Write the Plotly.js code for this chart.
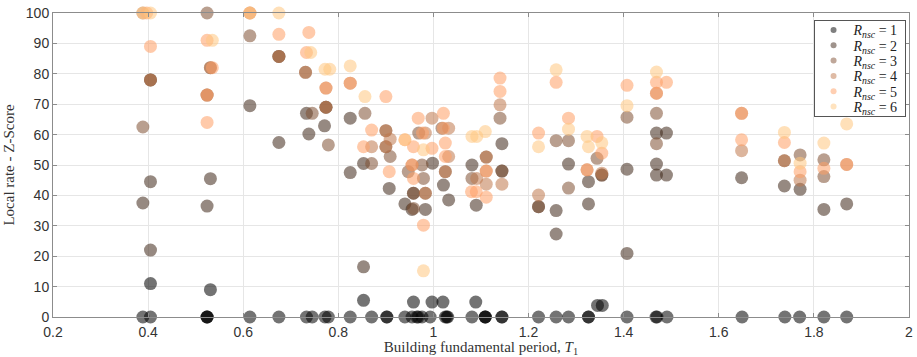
<!DOCTYPE html>
<html><head><meta charset="utf-8">
<script src="https://cdn.plot.ly/plotly-3.0.1.min.js"></script>
<style>html,body{margin:0;padding:0;background:#fff;}#chart{width:917px;height:357px;}</style>
</head><body><div id="chart"></div>
<script>
// R_nsc = 1
const r1x = [0.389,0.405,0.524,0.524,0.524,0.614,0.675,0.733,0.745,0.772,0.779,0.825,0.870,0.902,0.902,0.940,0.955,0.965,0.976,0.968,0.993,1.025,1.028,1.030,1.081,1.109,1.109,1.109,1.144,1.144,1.221,1.258,1.284,1.326,1.326,1.407,1.468,1.470,1.491,1.649,1.739,1.770,1.821,1.869,
             0.405,0.531,0.853,0.958,0.997,1.020,1.089,1.345,1.355];
const r1y = [0,0,0,0,0,0,0,0,0,0,0,0,0,0,0,0,0,0,0,0,0,0,0,0,0,0,0,0,0,0,0,0,0,0,0,0,0,0,0,0,0,0,0,0,
             11,9,5.5,4.9,4.9,4.9,4.9,3.8,3.8];
// R_nsc = 2
const r2x = [0.389,0.405,0.405,0.405,0.524,0.531,0.614,0.675,0.675,0.733,0.738,0.771,0.774,0.825,0.825,0.853,0.853,0.907,0.940,0.955,0.958,0.983,0.998,1.021,1.032,1.081,1.090,1.144,1.144,1.221,1.258,1.258,1.284,1.326,1.326,1.354,1.407,1.407,1.469,1.490,1.469,1.469,1.490,1.648,1.738,1.771,1.821,1.869];
const r2y = [37.5,44.5,22,78,36.5,45.5,69.5,57.4,85.7,67,60.2,62.9,69,65.4,47.5,16.5,50.5,42.3,37.2,35.4,40.7,35.4,50.6,43.4,38.5,50,36.8,57,48,36.3,35,27.3,50.3,44.5,37.2,46.7,48.6,20.9,60.5,60.5,50.3,46.7,46.7,45.8,43.1,42,35.4,37.2];
// R_nsc = 3
const r3x = [0.389,0.405,0.524,0.524,0.531,0.614,0.675,0.731,0.745,0.774,0.779,0.856,0.870,0.900,0.900,0.909,0.947,0.958,0.958,0.969,0.976,0.979,0.983,1.018,1.025,1.081,1.111,1.140,1.144,1.221,1.258,1.284,1.284,1.344,1.354,1.407,1.469,1.469,1.738,1.771,1.821,1.821];
const r3y = [62.5,78,100,73,82,92.5,85.7,80.5,67,69,56.6,67,50.5,61.3,56,52.8,47.8,40.7,35.7,60.5,50,45.6,40.7,62.1,47.8,45.6,52.6,65.4,48,36.3,58,58,42.4,52.2,46.7,65.7,67,57,51.4,53.3,51.7,46.2];
// R_nsc = 4
const r4x = [0.389,0.405,0.531,0.524,0.614,0.675,0.731,0.774,0.774,0.825,0.870,0.900,0.909,0.900,0.955,0.983,0.997,0.983,1.032,1.032,1.025,1.091,1.111,1.111,1.111,1.140,1.144,1.221,1.323,1.354,1.469,1.648,1.648,1.738,1.771,1.869];
const r4y = [100,78,82,73,100,85.7,80.5,75.3,69,76.9,56,61.3,58.5,56,50,40.7,65.4,60.5,62.1,52.8,47.8,45.6,52.6,48,43.7,69.8,43.7,40.1,48.4,47.3,73.6,67,54.7,51.4,45,50.2];
// R_nsc = 5
const r5x = [0.397,0.405,0.524,0.535,0.524,0.524,0.614,0.675,0.738,0.733,0.774,0.825,0.853,0.870,0.900,0.907,0.940,0.958,0.955,0.958,0.968,0.977,0.979,0.997,1.021,1.021,1.025,1.025,1.080,1.090,1.111,1.111,1.140,1.140,1.221,1.258,1.284,1.323,1.344,1.354,1.407,1.469,1.490,1.469,1.648,1.648,1.738,1.771,1.821,1.869];
const r5y = [100,89,91,82,73,64,100,93,93.6,87,75.3,76.9,56,61.5,72.5,47.8,58.3,56,50,45.6,65.4,60.5,30.2,55.5,67,62.1,57.2,52.8,41.2,41.2,48,39.4,78.6,74.2,60.5,77.2,65.4,48.4,59.4,53.9,76.2,77.2,77.2,73.6,58.3,67,57.4,47.8,48.9,50.2];
// R_nsc = 6
const r6x = [0.389,0.405,0.535,0.614,0.675,0.742,0.772,0.782,0.825,0.856,0.940,0.979,0.979,1.081,1.091,1.109,1.221,1.258,1.284,1.323,1.326,1.354,1.407,1.469,1.738,1.771,1.821,1.869];
const r6y = [100,100,91,100,100,87,81.5,81.5,82.6,72.5,58.3,15.2,55,59.4,59.4,61,56,81.3,61.8,59.4,56,57.3,69.5,80.6,60.7,50.6,57.2,63.5];

const seriesNames = ['1','2','3','4','5','6'];
const xs = [r1x,r2x,r3x,r4x,r5x,r6x];
const ys = [r1y,r2y,r3y,r4y,r5y,r6y];
const colors = ['rgb(0,0,0)','rgb(64,40,25)','rgb(128,80,51)','rgb(191,120,76)','rgb(255,159,101)','rgb(255,199,127)'];

const traces = [];
for (let i = 0; i < 6; i++) {
  traces.push({
    type:'scatter', mode:'markers', x: xs[i], y: ys[i], showlegend:false, cliponaxis:false,
    marker:{size:13, color:colors[i], opacity:0.55, line:{width:0}}, hoverinfo:'skip'
  });
}
for (let i = 0; i < 6; i++) {
  traces.push({
    type:'scatter', mode:'markers', x:[null], y:[null], showlegend:true,
    name:'<i>R</i><sub><i>nsc</i></sub> = ' + seriesNames[i],
    marker:{size:6, color:colors[i], opacity:0.5, line:{width:0}}
  });
}

const layout = {
  width:917, height:357,
  margin:{l:53, r:8, t:13, b:40},
  paper_bgcolor:'#fff', plot_bgcolor:'#fff',
  font:{family:'Liberation Sans, Arial, sans-serif', size:14, color:'#333'},
  xaxis:{
    range:[0.2,2], dtick:0.2, tick0:0.2, showgrid:true, gridcolor:'#e6e6e6', gridwidth:1,
    zeroline:false, showline:true, linecolor:'#8c8c8c', linewidth:1, mirror:'ticks',
    ticks:'inside', ticklen:4, tickcolor:'#8c8c8c', ticklabelstandoff:2,
    tickfont:{family:'Liberation Sans, Arial, sans-serif', size:14, color:'#333'},
    title:{text:'Building fundamental period, <i>T</i><sub>1</sub>', standoff:1,
      font:{family:'Liberation Serif, DejaVu Serif, serif', size:15, color:'#333'}}
  },
  yaxis:{
    range:[0,100], dtick:10, showgrid:true, gridcolor:'#e6e6e6', gridwidth:1,
    zeroline:false, showline:true, linecolor:'#8c8c8c', linewidth:1, mirror:'ticks',
    ticks:'inside', ticklen:4, tickcolor:'#8c8c8c',
    tickfont:{family:'Liberation Sans, Arial, sans-serif', size:14, color:'#333'},
    title:{text:'Local rate - Z-Score', standoff:7,
      font:{family:'Liberation Serif, DejaVu Serif, serif', size:15, color:'#333'}}
  },
  legend:{
    x:0.8885, y:0.977, xanchor:'left', yanchor:'top',
    bgcolor:'#fff', bordercolor:'#555', borderwidth:1,
    font:{family:'Liberation Serif, DejaVu Serif, serif', size:14, color:'#222'},
    tracegroupgap:0, itemwidth:30
  }
};

Plotly.newPlot('chart', traces, layout, {staticPlot:true}).then(function(gd){
  // compact the legend rows to match the reference's tighter spacing
  const items = gd.querySelectorAll('.legend .traces');
  const rowGap = 15.3, firstRow = 10;
  items.forEach(function(g, i){
    g.setAttribute('transform', 'translate(0,' + (firstRow + i*rowGap) + ')');
  });
  const bg = gd.querySelector('.legend .bg');
  if (bg) bg.setAttribute('height', String(firstRow*2 + (items.length-1)*rowGap));
});
</script>
</body></html>
